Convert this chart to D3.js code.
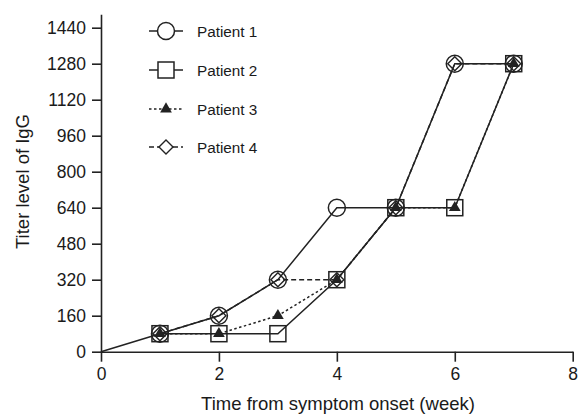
<!DOCTYPE html>
<html><head><meta charset="utf-8">
<script src="https://cdn.jsdelivr.net/npm/d3@7"></script>
<style>body{margin:0;background:#fff}svg{display:block}text{font-family:"Liberation Sans",Arial,sans-serif;fill:#1a1a1a}</style>
</head><body><svg id="c" width="578" height="414"></svg>
<script>
const weeks = [0,1,2,3,4,5,6,7];
const patient1 = [0,80,160,320,640,640,1280,1280];
const patient2 = [null,80,80,80,320,640,640,1280];
const patient3 = [null,80,80,160,320,640,640,1280];
const patient4 = [null,80,160,320,320,640,1280,1280];
const seriesNames = ["Patient 1","Patient 2","Patient 3","Patient 4"];
const yTicks = [0,160,320,480,640,800,960,1120,1280,1440];
const xTicks = [0,2,4,6,8];

const svg = d3.select("#c");
const x = d3.scaleLinear().domain([0,8]).range([101,572.7]);
const y = d3.scaleLinear().domain([0,1500]).range([351.7,14.2]);
const col = "#222";

const gx = svg.append("g").attr("transform","translate(0,351.7)")
  .call(d3.axisBottom(x).tickValues(xTicks).tickFormat(d3.format("d")).tickSize(10).tickPadding(6).tickSizeOuter(0));
const gy = svg.append("g").attr("transform","translate(101,0)")
  .call(d3.axisLeft(y).tickValues(yTicks).tickFormat(d3.format("d")).tickSize(9).tickPadding(6).tickSizeOuter(0));
[gx,gy].forEach(g=>{
  g.select(".domain").attr("stroke",col).attr("stroke-width",1.6);
  g.selectAll(".tick line").attr("stroke",col).attr("stroke-width",1.6);
  g.selectAll(".tick text").attr("font-size",17.5).attr("fill","#1a1a1a").attr("font-family","Liberation Sans, Arial, sans-serif");
});

svg.append("text").attr("x",338).attr("y",410).attr("text-anchor","middle").attr("font-size",18.5).text("Time from symptom onset (week)");
svg.append("text").attr("transform","translate(29,181.5) rotate(-90)").attr("text-anchor","middle").attr("font-size",18.5).text("Titer level of IgG");

const all = [patient1,patient2,patient3,patient4];
const dashes = [null,null,"2.5,2.5","5,3"];
const line = d3.line().defined(d=>d.v!==null).x(d=>x(d.w)).y(d=>y(d.v));

function drawMarker(g,i,cx,cy){
  if(i===0) g.append("circle").attr("cx",cx).attr("cy",cy).attr("r",8.5).attr("fill","none").attr("stroke",col).attr("stroke-width",1.5);
  if(i===1) g.append("rect").attr("x",cx-8).attr("y",cy-8).attr("width",16).attr("height",16).attr("fill","none").attr("stroke",col).attr("stroke-width",1.5);
  if(i===2) g.append("path").attr("d",d3.symbol(d3.symbolTriangle,60)()).attr("transform",`translate(${cx},${cy})`).attr("fill",col);
  if(i===3) g.append("path").attr("d",`M${cx},${cy-7}L${cx+7},${cy}L${cx},${cy+7}L${cx-7},${cy}Z`).attr("fill","none").attr("stroke",col).attr("stroke-width",1.4);
}

all.forEach((s,i)=>{
  const data = weeks.map((w,j)=>({w,v:s[j]}));
  svg.append("path").datum(data).attr("d",line).attr("fill","none").attr("stroke",col)
    .attr("stroke-width",1.5).attr("stroke-dasharray",dashes[i]);
});
const mg = svg.append("g");
[1,3,2,0].forEach(i=>{
  weeks.forEach((w,j)=>{
    if(w===0 || all[i][j]===null) return;
    drawMarker(mg,i,x(w),y(all[i][j]));
  });
});

// legend
const ly = [31,70,109,147];
seriesNames.forEach((n,i)=>{
  svg.append("line").attr("x1",149).attr("x2",183).attr("y1",ly[i]).attr("y2",ly[i]).attr("stroke",col)
    .attr("stroke-width",1.5).attr("stroke-dasharray",dashes[i]);
  if(i===0) svg.append("circle").attr("cx",166).attr("cy",ly[i]).attr("r",8.5).attr("fill","#fff");
  if(i===1) svg.append("rect").attr("x",158).attr("y",ly[i]-8).attr("width",16).attr("height",16).attr("fill","#fff");
  if(i===3) svg.append("path").attr("d",`M166,${ly[i]-7}L173,${ly[i]}L166,${ly[i]+7}L159,${ly[i]}Z`).attr("fill","#fff");
  drawMarker(svg,i,166,ly[i]);
  svg.append("text").attr("x",197).attr("y",ly[i]+5.5).attr("font-size",15.3).text(n);
});
</script></body></html>
